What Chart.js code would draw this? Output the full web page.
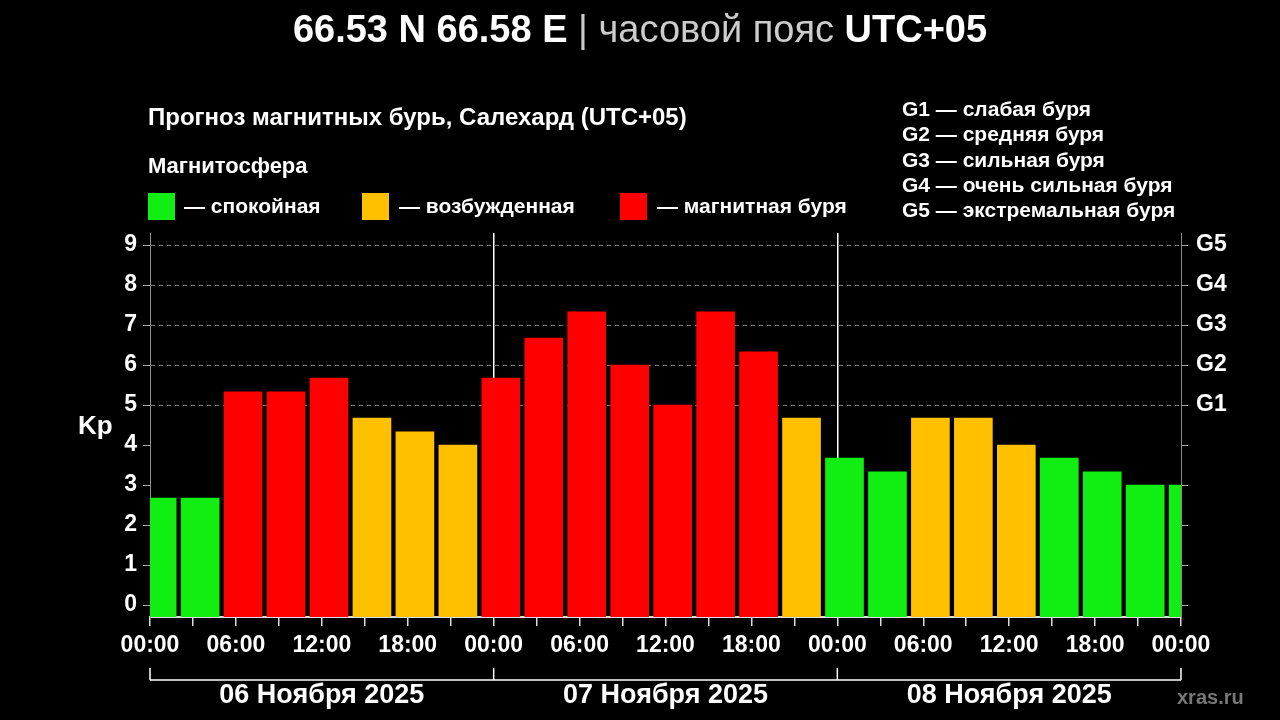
<!DOCTYPE html>
<html>
<head>
<meta charset="utf-8">
<script src="https://cdn.jsdelivr.net/npm/chart.js@4.4.1/dist/chart.umd.min.js"></script>
<style>
  body { margin: 0; background: #000; font-family: "Liberation Sans", Arial, sans-serif; }
  #wrap { position: relative; width: 1280px; height: 720px; }
  canvas { position: absolute; left: 0; top: 0; }
  .t { position: absolute; color: #fff; font-weight: bold; white-space: nowrap; }
  .sq { position: absolute; width: 27px; height: 27px; }
</style>
</head>
<body>
<div id="wrap">
  <canvas id="kp" width="1280" height="720"></canvas>
  <div class="t" style="left:0;width:1280px;text-align:center;top:8px;font-size:38px">66.53 N 66.58 E <span style="font-weight:normal;color:#ccc">| часовой пояс</span> UTC+05</div>
  <div class="t" style="left:148px;top:103px;font-size:24px">Прогноз магнитных бурь, Салехард (UTC+05)</div>
  <div class="t" style="left:148px;top:153px;font-size:22px">Магнитосфера</div>
  <div class="sq" style="left:148px;top:193px;background:#11ee11"></div>
  <div class="t" style="left:184px;top:194px;font-size:21px">— спокойная</div>
  <div class="sq" style="left:362px;top:193px;background:#ffc000"></div>
  <div class="t" style="left:399px;top:194px;font-size:21px">— возбужденная</div>
  <div class="sq" style="left:620px;top:193px;background:#ff0000"></div>
  <div class="t" style="left:657px;top:194px;font-size:21px">— магнитная буря</div>
  <div class="t" style="left:902px;top:96px;font-size:21px;line-height:25.3px">G1 — слабая буря<br>G2 — средняя буря<br>G3 — сильная буря<br>G4 — очень сильная буря<br>G5 — экстремальная буря</div>
  <div class="t" style="left:78px;top:410px;font-size:26px">Kp</div>
  <div class="t" style="left:1177px;top:686px;font-size:20px;color:#777">xras.ru</div>
</div>
<script>
const hours = [0.5, 3.5, 6.5, 9.5, 12.5, 15.5, 18.5, 21.5,
  24.5, 27.5, 30.5, 33.5, 36.5, 39.5, 42.5, 45.5,
  48.5, 51.5, 54.5, 57.5, 60.5, 63.5, 66.5, 69.5, 72.5];
const kp = [2.67, 2.67, 5.33, 5.33, 5.67, 4.67, 4.33, 4.0,
  5.67, 6.67, 7.33, 6.0, 5.0, 7.33, 6.33, 4.67,
  3.67, 3.33, 4.67, 4.67, 4.0, 3.67, 3.33, 3.0, 3.0];
const days = ['06 Ноября 2025', '07 Ноября 2025', '08 Ноября 2025'];
const gLabels = { 5: 'G1', 6: 'G2', 7: 'G3', 8: 'G4', 9: 'G5' };

const colorFor = v => v >= 5 ? '#ff0000' : (v >= 4 ? '#ffc000' : '#11ee11');
const tickFont = { size: 23, weight: 'bold', family: '"Liberation Sans", Arial' };

const bracket = {
  id: 'bracket',
  afterDraw(chart) {
    const ctx = chart.ctx, x = chart.scales.x;
    ctx.save();
    ctx.strokeStyle = '#fff';
    ctx.lineWidth = 1.5;
    ctx.beginPath();
    ctx.moveTo(x.getPixelForValue(0), 680);
    ctx.lineTo(x.getPixelForValue(72), 680);
    [0, 24, 48, 72].forEach(h => {
      const px = x.getPixelForValue(h);
      ctx.moveTo(px, 668);
      ctx.lineTo(px, 680);
    });
    ctx.stroke();
    ctx.fillStyle = '#fff';
    ctx.font = 'bold 27px "Liberation Sans", Arial';
    ctx.textAlign = 'center';
    ctx.textBaseline = 'middle';
    days.forEach((d, i) => ctx.fillText(d, x.getPixelForValue(12 + 24 * i), 696));
    ctx.restore();
  }
};

new Chart(document.getElementById('kp'), {
  type: 'bar',
  data: {
    datasets: [{
      data: hours.map((h, i) => ({ x: h, y: kp[i] })),
      backgroundColor: kp.map(colorFor),
      barThickness: 38,
      base: -0.3,
      grouped: false
    }]
  },
  options: {
    responsive: false,
    animation: false,
    layout: { padding: { top: 233, left: 0, right: 0, bottom: 0 } },
    plugins: { legend: { display: false }, tooltip: { enabled: false } },
    scales: {
      x: {
        type: 'linear', min: 0, max: 72, offset: false,
        afterFit: s => { s.height = 103; },
        afterBuildTicks: s => { s.ticks = []; for (let h = 0; h <= 72; h += 3) s.ticks.push({ value: h }); },
        ticks: {
          color: '#fff', font: tickFont, padding: 6, maxRotation: 0, autoSkip: false,
          callback: v => v % 6 === 0 ? String(v % 24).padStart(2, '0') + ':00' : ''
        },
        grid: {
          offset: false,
          color: c => (c.tick && (c.tick.value === 24 || c.tick.value === 48)) ? '#fff' : 'transparent',
          tickColor: '#ddd', tickLength: 9, lineWidth: 1.5
        },
        border: { color: '#ddd', width: 2 }
      },
      y: {
        min: -0.3, max: 9.3,
        afterFit: s => { s.width = 150; },
        afterBuildTicks: s => { s.ticks = []; for (let v = 0; v <= 9; v++) s.ticks.push({ value: v }); },
        ticks: { color: '#fff', font: tickFont, padding: 6 },
        grid: {
          color: c => (c.tick && c.tick.value >= 5) ? '#777' : 'transparent',
          tickColor: '#aaa', tickLength: 7, lineWidth: 1
        },
        border: { color: '#888', dash: [4, 4] }
      },
      y2: {
        position: 'right', min: -0.3, max: 9.3,
        afterFit: s => { s.width = 99; },
        afterBuildTicks: s => { s.ticks = []; for (let v = 0; v <= 9; v++) s.ticks.push({ value: v }); },
        ticks: { color: '#fff', font: tickFont, padding: 8, callback: v => gLabels[v] || '' },
        grid: { drawOnChartArea: false, tickColor: '#aaa', tickLength: 7 },
        border: { color: '#888' }
      }
    }
  },
  plugins: [bracket]
});
</script>
</body>
</html>
